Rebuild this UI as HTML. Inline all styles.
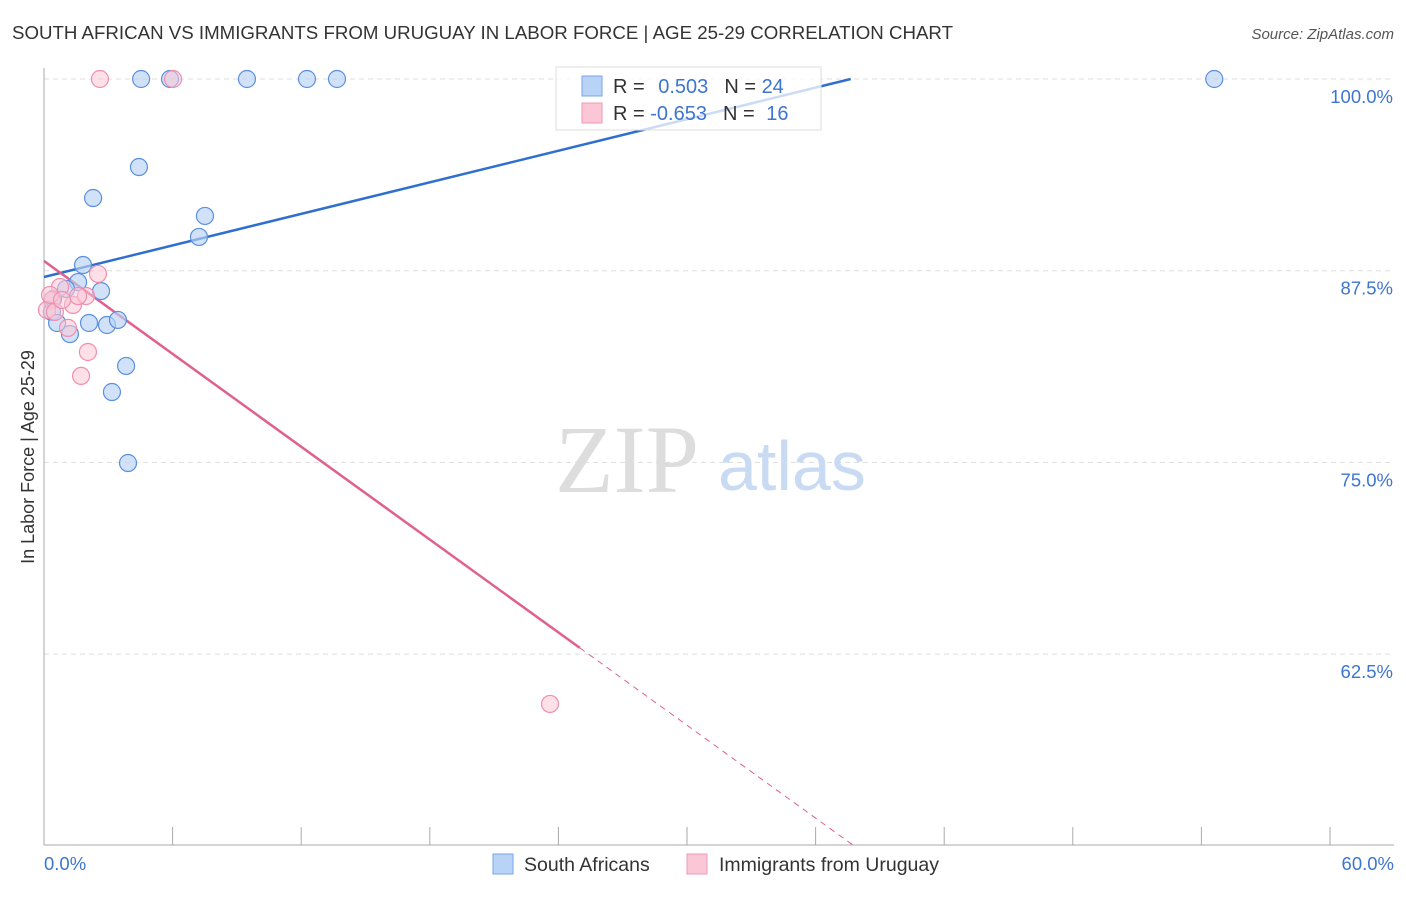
<!DOCTYPE html>
<html><head><meta charset="utf-8"><style>
body{margin:0;background:#fff;font-family:"Liberation Sans",sans-serif}
</style></head><body>
<svg id="c" width="1406" height="892" viewBox="0 0 1406 892" xmlns="http://www.w3.org/2000/svg">
<text x="12" y="39" font-size="18" fill="#333" textLength="941" lengthAdjust="spacingAndGlyphs">SOUTH AFRICAN VS IMMIGRANTS FROM URUGUAY IN LABOR FORCE | AGE 25-29 CORRELATION CHART</text>
<text x="1394" y="39" font-size="15" fill="#555" text-anchor="end" font-style="italic">Source: ZipAtlas.com</text>
<text transform="translate(34,457) rotate(-90)" font-size="18" fill="#333" text-anchor="middle">In Labor Force | Age 25-29</text>
<g id="grid"></g>
<text x="555" y="492" font-size="96" fill="#ddd" font-family="Liberation Serif">ZIP</text>
<text x="718" y="490" font-size="70" fill="#c9daf3">atlas</text>
<g id="lines"></g>
<g id="pts"></g>
<g>
<rect x="556" y="67" width="265" height="63" fill="#fff" fill-opacity="0.75" stroke="#ddd"/>
<rect x="582" y="76" width="20" height="20" fill="#b8d3f5" stroke="#7aa6e6"/>
<rect x="582" y="103" width="20" height="20" fill="#fbc7d6" stroke="#ee98b3"/>
<text x="613" y="93" font-size="20" fill="#333">R = <tspan fill="#3d75d0" dx="8">0.503</tspan><tspan dx="16" fill="#333">N = </tspan><tspan fill="#3d75d0">24</tspan></text>
<text x="613" y="120" font-size="20" fill="#333">R = <tspan fill="#3d75d0">-0.653</tspan><tspan dx="16" fill="#333">N = </tspan><tspan fill="#3d75d0" dx="6">16</tspan></text>
</g>
<g>
<rect x="493" y="854" width="20" height="20" fill="#b8d3f5" stroke="#7aa6e6"/>
<text x="524" y="871" font-size="19.5" fill="#333">South Africans</text>
<rect x="687" y="854" width="20" height="20" fill="#fbc7d6" stroke="#ee98b3"/>
<text x="719" y="871" font-size="19.5" fill="#333">Immigrants from Uruguay</text>
</g>
</svg>
<script>
const yTicks=[100,87.5,75,62.5];
const yTickLabels=["100.0%","87.5%","75.0%","62.5%"];
const xTicks=[0,6,12,18,24,30,36,42,48,54,60];
const blueX=[4.53,5.88,9.47,12.27,13.67,54.6,4.43,2.29,7.51,7.23,1.82,1.59,1.03,2.66,0.42,0.37,0.61,2.10,2.94,3.45,1.21,3.83,3.17,3.92];
const blueY=[100,100,100,100,100,100,94.26,92.24,91.07,89.70,87.87,86.76,86.31,86.17,85.65,84.81,84.09,84.09,83.96,84.29,83.37,81.29,79.59,74.96];
const pinkX=[2.61,6.02,2.52,0.75,1.35,1.96,1.59,0.37,0.14,0.51,1.12,2.05,1.73,23.61,0.28,0.84];
const pinkY=[100,100,87.29,86.44,85.27,85.85,85.85,85.59,84.94,84.81,83.77,82.20,80.64,59.25,85.92,85.59];
const blueFit=[87.09,0.343];
const pinkFit=[88.13,-1.009];
const X=v=>44+v*1286/60, Y=v=>79+(100-v)*191.7/12.5;
const NS="http://www.w3.org/2000/svg";
function mk(t,a,p){const e=document.createElementNS(NS,t);for(const k in a)e.setAttribute(k,a[k]);p.appendChild(e);return e;}
const g=document.getElementById('grid');
yTicks.forEach((v,i)=>{
 const l=mk('line',{x1:44,x2:1394,y1:Y(v),y2:Y(v),stroke:'#ddd','stroke-dasharray':'5,4'},g);
 
 
 const t=mk('text',{x:1393,y:Y(v)+24,'font-size':18.5,fill:'#3d75d0','text-anchor':'end'},g);t.textContent=yTickLabels[i];
 
 
});
const ax=mk('line',{x1:44,x2:44,y1:68,y2:845,stroke:'#aaa'},g);


const bx=mk('line',{x1:44,x2:1394,y1:845,y2:845,stroke:'#aaa'},g);


xTicks.forEach(v=>{const l=mk('line',{x1:X(v),x2:X(v),y1:827,y2:845,stroke:'#aaa'},g);
 
 });
[[0,"0.0%",44,'start'],[60,"60.0%",1394,'end']].forEach(d=>{const t=mk('text',{x:d[2],y:870,'font-size':18.5,fill:'#3d75d0','text-anchor':d[3]},g);t.textContent=d[1];
 
 });
const L=document.getElementById('lines');
const bEnd=(100-blueFit[0])/blueFit[1];
const bl=mk('line',{x1:X(0),y1:Y(blueFit[0]),x2:X(bEnd),y2:Y(100),stroke:'#2f6fd0','stroke-width':2.5},L);


const pSolid=25, pEnd=(50-pinkFit[0])/pinkFit[1];
const pl=mk('line',{x1:X(0),y1:Y(pinkFit[0]),x2:X(pSolid),y2:Y(pinkFit[0]+pinkFit[1]*pSolid),stroke:'#e0608e','stroke-width':2.5},L);


const pd=mk('line',{x1:X(pSolid),y1:Y(pinkFit[0]+pinkFit[1]*pSolid),x2:X(pEnd),y2:Y(50),stroke:'#e0608e','stroke-width':1,'stroke-dasharray':'6,5'},L);


const P=document.getElementById('pts');
blueX.forEach((v,i)=>{const c=mk('circle',{cx:X(v),cy:Y(blueY[i]),r:8.5,fill:'#b8d3f5','fill-opacity':0.65,stroke:'#5b8fe0','stroke-width':1.2},P);
 
 });
pinkX.forEach((v,i)=>{const c=mk('circle',{cx:X(v),cy:Y(pinkY[i]),r:8.5,fill:'#fbc7d6','fill-opacity':0.55,stroke:'#ef8fae','stroke-width':1.2},P);
 
 });
</script>
</body></html>
